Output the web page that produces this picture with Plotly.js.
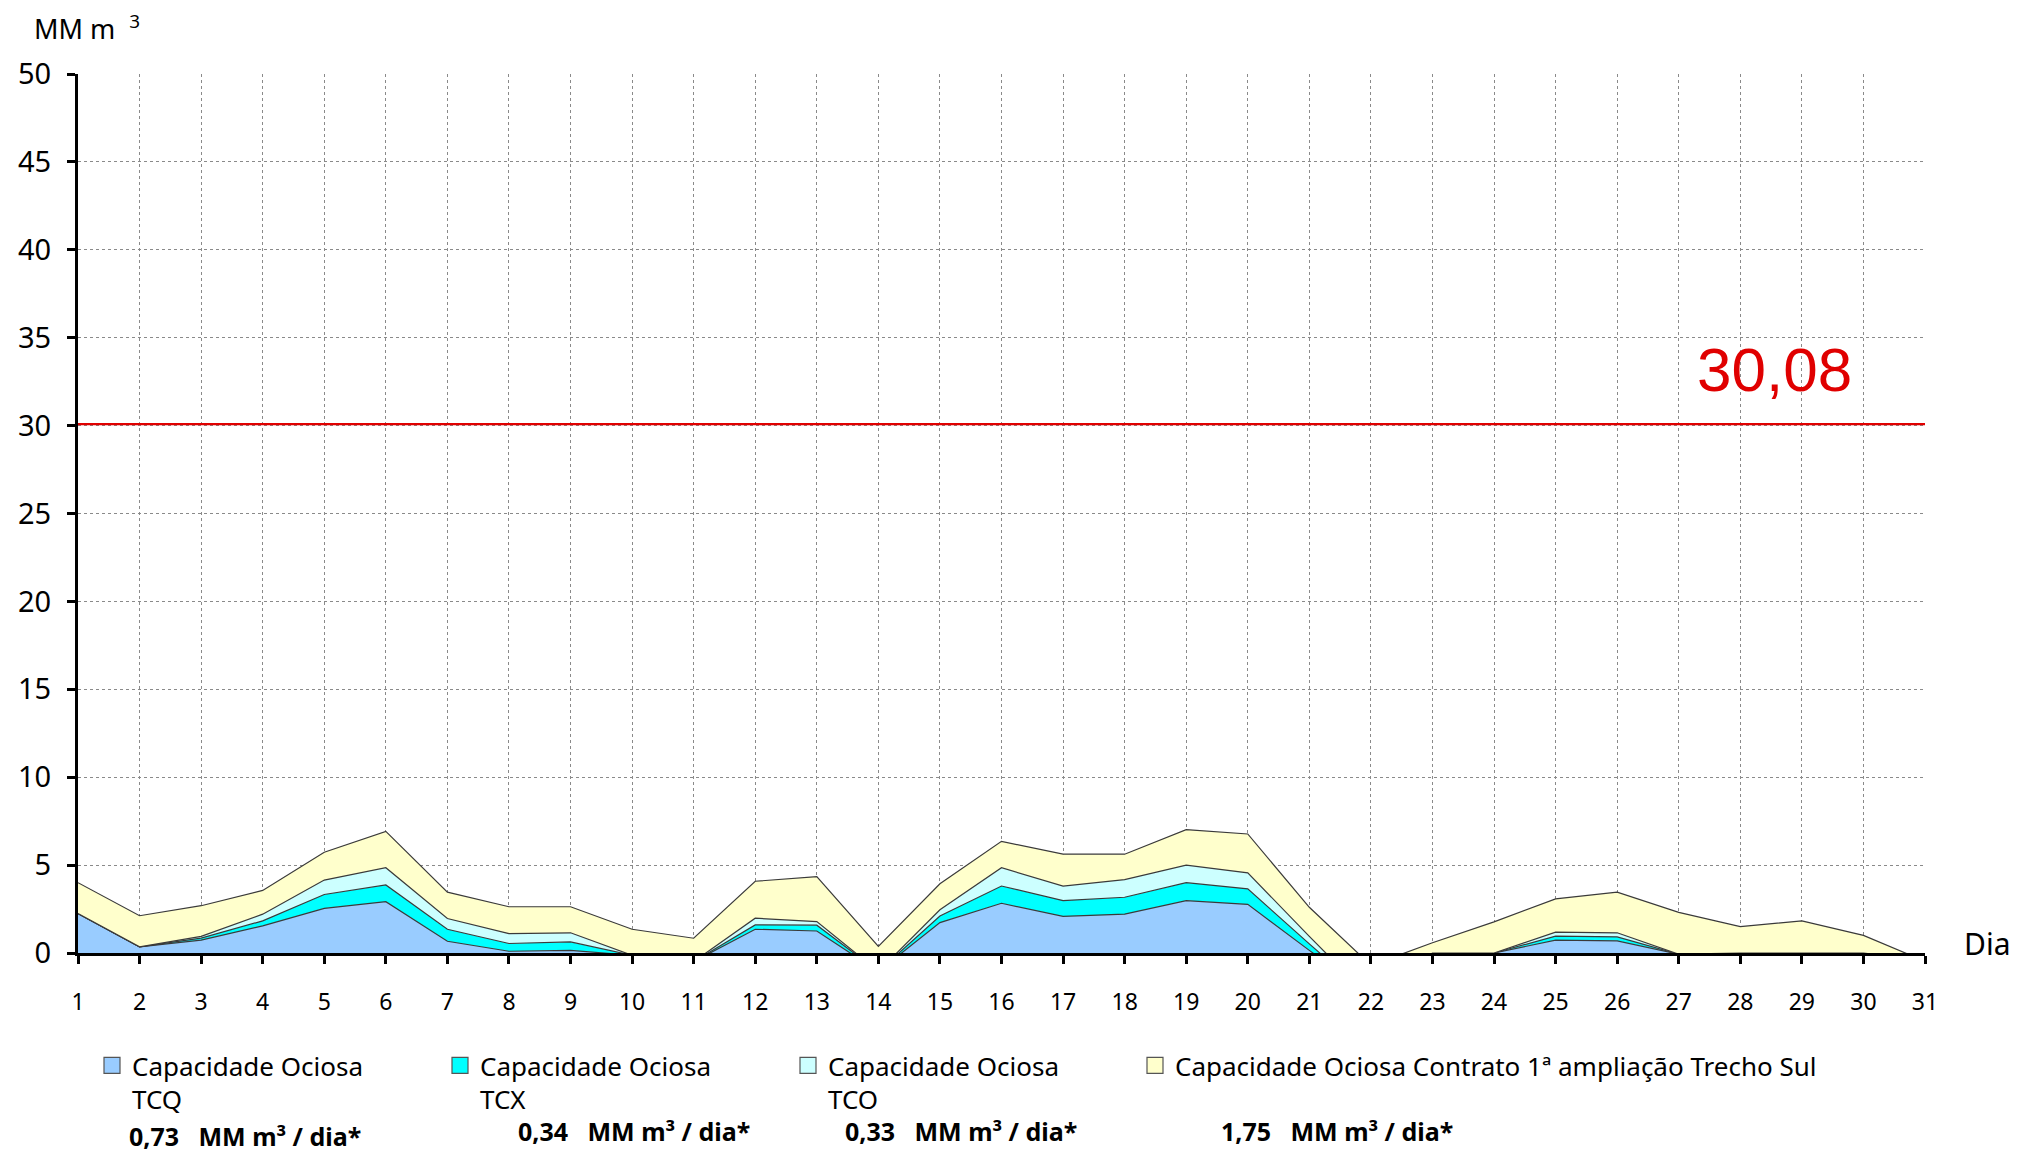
<!DOCTYPE html>
<html>
<head>
<meta charset="utf-8">
<script src="https://cdn.plot.ly/plotly-3.0.1.min.js"></script>
<style>html,body{margin:0;padding:0;background:#fff;}#chart{width:2033px;height:1152px;}</style>
</head>
<body>
<div id="chart"></div>
<script>
// ---- data ----
const days = [1,2,3,4,5,6,7,8,9,10,11,12,13,14,15,16,17,18,19,20,21,22,23,24,25,26,27,28,29,30,31];
const tcq = [2.25,0.35,0.73,1.54,2.54,2.92,0.67,0.10,0.15,-0.13,-0.49,1.35,1.25,-1.05,1.73,2.83,2.08,2.21,2.98,2.77,0.15,-2.40,0,0,0.73,0.69,-0.07,0,0,0,-0.47];
const tcx = [0,0,0.12,0.29,0.79,0.95,0.68,0.44,0.48,0,0,0.25,0.33,0,0.37,0.98,0.90,0.96,1.02,0.88,0.37,-0.15,0,0,0.23,0.23,0,0,0,0,0];
const tco = [0,0,0.10,0.38,0.82,0.98,0.61,0.56,0.52,0,0,0.38,0.21,0,0.36,1.04,0.83,1.00,1.00,0.91,0.43,-0.05,0,0,0.23,0.23,0,0,0,0,0];
const contrato = [1.75,1.77,1.74,1.35,1.58,2.07,1.50,1.53,1.48,1.48,1.33,2.10,2.56,1.43,1.48,1.50,1.81,1.45,2.02,2.21,1.65,1.90,0.58,1.77,1.89,2.31,2.38,1.50,1.83,1.00,0];
const limitValue = 30.08;
const limitLabel = "30,08";
const seriesNames = ["Capacidade Ociosa<br>TCQ", "Capacidade Ociosa<br>TCX", "Capacidade Ociosa<br>TCO", "Capacidade Ociosa Contrato 1ª ampliação Trecho Sul"];
const seriesRates = ["0,73", "0,34", "0,33", "1,75"];
const yTicks = [0,5,10,15,20,25,30,35,40,45,50];

// ---- styling ----
const fills = ["#99CCFF", "#00FFFF", "#CCFFFF", "#FFFFCC"];
const legendRefs = ["legend", "legend", "legend", "legend2"];
const edge = "#3a3a3a";
const FONT = "Noto Sans, DejaVu Sans, sans-serif";
const W = 2033, H = 1152;
const M = {l: 78, r: 108, t: 74, b: 199};
const PW = W - M.l - M.r, PH = H - M.t - M.b;
const px = x => (x - M.l) / PW;
const py = y => (H - M.b - y) / PH;

const stackVals = [tcq, tcx, tco, contrato];
const traces = [];
stackVals.forEach((vals, i) => {
  traces.push({
    type: "scatter", mode: "lines", x: days, y: vals,
    stackgroup: "cap", fill: "tonexty", fillcolor: fills[i],
    line: {color: edge, width: 1.2, shape: "linear"},
    showlegend: false, hoverinfo: "skip"
  });
});
// red limit line
traces.push({
  type: "scatter", mode: "lines", x: [days[0], days[days.length - 1]], y: [limitValue, limitValue],
  line: {color: "#E00000", width: 2.2}, showlegend: false, hoverinfo: "skip"
});
// legend entries
seriesNames.forEach((n, i) => {
  traces.push({
    type: "scatter", mode: "markers", x: [null], y: [null], name: n, legend: legendRefs[i],
    marker: {symbol: "square", size: 17, color: fills[i], line: {color: "#555", width: 1.2}},
    showlegend: true
  });
});

const annotations = [
  {xref: "paper", yref: "paper", x: px(32), y: py(28), xanchor: "left", yanchor: "middle",
   text: "MM m\u00A0\u00A0<sup>3</sup>", showarrow: false, font: {family: FONT, size: 27, color: "#000"}},
  {xref: "paper", yref: "paper", x: px(1987), y: py(943), xanchor: "center", yanchor: "middle",
   text: "Dia", showarrow: false, font: {family: FONT, size: 30, color: "#000"}},
  {xref: "x", yref: "y", x: 28.56, y: 33.2, xanchor: "center", yanchor: "middle",
   text: limitLabel, showarrow: false, font: {family: "Liberation Sans, Arial, sans-serif", size: 62, color: "#E00000"}}
];
const rateX = [127, 516, 843, 1219];
const rateY = [1136, 1131, 1131, 1131];
seriesRates.forEach((r, i) => {
  annotations.push({
    xref: "paper", yref: "paper", x: px(rateX[i]), y: py(rateY[i]), xanchor: "left", yanchor: "middle",
    text: "<b>" + r + "\u00A0\u00A0\u00A0MM m³\u00A0/\u00A0dia*</b>", showarrow: false,
    font: {family: FONT, size: 25, color: "#000"}
  });
});

const legendBase = {
  orientation: "h", yanchor: "top", xanchor: "left", valign: "top", traceorder: "normal",
  font: {family: FONT, size: 26, color: "#000"}, bgcolor: "rgba(0,0,0,0)", borderwidth: 0,
  itemwidth: 30, tracegroupgap: 0
};

const layout = {
  width: W, height: H,
  margin: M,
  paper_bgcolor: "#fff", plot_bgcolor: "#fff",
  showlegend: true,
  legend: Object.assign({}, legendBase, {x: px(92), y: py(1042), entrywidth: 303, entrywidthmode: "pixels"}),
  legend2: Object.assign({}, legendBase, {x: px(1135), y: py(1042)}),
  xaxis: {
    range: [1, 31], tickmode: "array", tickvals: days, ticktext: days.map(String),
    showline: true, linecolor: "#000", linewidth: 3, mirror: false,
    ticks: "outside", ticklen: 8, tickwidth: 3, tickcolor: "#000",
    showgrid: true, gridcolor: "#8a8a8a", gridwidth: 1, griddash: "dot",
    zeroline: false, tickfont: {family: FONT, size: 23, color: "#000"}, ticklabelstandoff: 18,
    fixedrange: true
  },
  yaxis: {
    range: [0, 50], tickmode: "array", tickvals: yTicks, ticktext: yTicks.map(String),
    showline: true, linecolor: "#000", linewidth: 3,
    ticks: "outside", ticklen: 8, tickwidth: 3, tickcolor: "#000",
    showgrid: true, gridcolor: "#8a8a8a", gridwidth: 1, griddash: "dot",
    zeroline: false, tickfont: {family: FONT, size: 29, color: "#000"}, ticklabelstandoff: 10,
    fixedrange: true
  },
  annotations: annotations
};

Plotly.newPlot("chart", traces, layout, {staticPlot: true, displayModeBar: false});
</script>
</body>
</html>
